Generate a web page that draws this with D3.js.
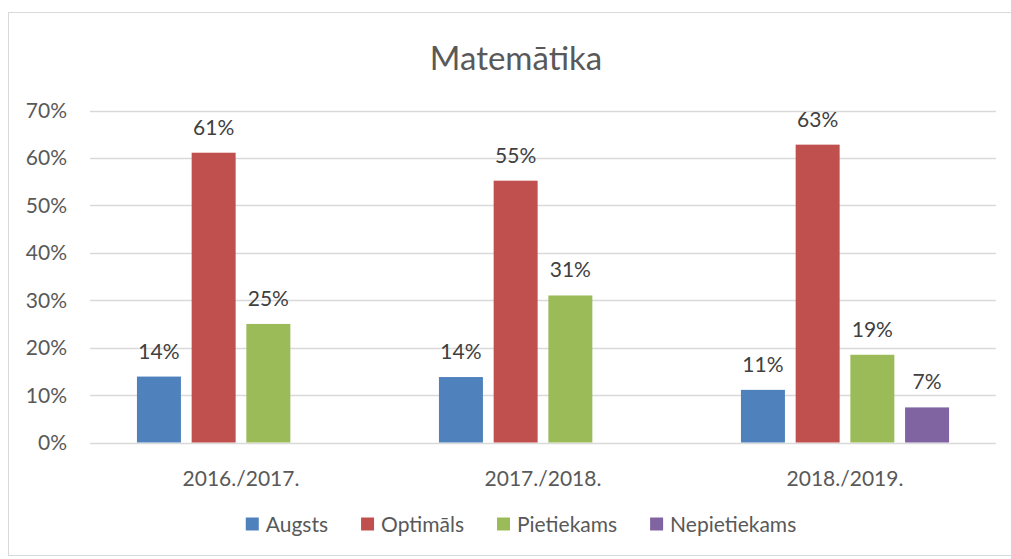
<!DOCTYPE html>
<html>
<head>
<meta charset="utf-8">
<script src="https://cdn.jsdelivr.net/npm/d3@7"></script>
<style>
  body { margin: 0; background: #fff; }
  svg text { font-family: Lato, "Open Sans", sans-serif; }
</style>
</head>
<body>
<svg></svg>
<script>
// chart data
const years = ["2016./2017.", "2017./2018.", "2018./2019."];
const series = ["Augsts", "Optimāls", "Pietiekams", "Nepietiekams"];
const augsts = [13.9, 13.8, 11.1];
const optimals = [61.1, 55.2, 62.8];
const pietiekams = [25.0, 31.0, 18.5];
const nepietiekams = [null, null, 7.4];
const yTicks = [0, 10, 20, 30, 40, 50, 60, 70];
const colours = ["#4F81BD", "#C0504D", "#9BBB59", "#8064A2"];

const width = 1011, height = 559;
const svg = d3.select("svg").attr("width", width).attr("height", height);

// outer frame
svg.append("rect")
  .attr("x", 8.5).attr("y", 12.5)
  .attr("width", 1010).attr("height", 543)
  .attr("fill", "#fff").attr("stroke", "#D9D9D9");

const plot = { left: 90, right: 996, top: 110.5, bottom: 442.5 };

const x = d3.scaleBand().domain(years).range([plot.left, plot.right]);
const xInner = d3.scaleBand().domain(series).range([0, x.bandwidth()])
  .paddingInner(0.196).paddingOuter(0.858);
const y = d3.scaleLinear().domain([0, 70]).range([plot.bottom, plot.top]);

// title
svg.append("text")
  .attr("x", 516).attr("y", 70)
  .attr("text-anchor", "middle")
  .attr("font-size", 33)
  .attr("fill", "#595959")
  .text("Matemātika");

// gridlines
svg.append("g").selectAll("line")
  .data(yTicks)
  .join("line")
  .attr("x1", plot.left).attr("x2", plot.right)
  .attr("y1", d => Math.round(y(d)) + 0.5).attr("y2", d => Math.round(y(d)) + 0.5)
  .attr("stroke", "#D9D9D9").attr("stroke-width", 1.5);

// y axis labels
svg.append("g").selectAll("text")
  .data(yTicks)
  .join("text")
  .attr("x", 67).attr("y", d => y(d))
  .attr("dy", "0.36em")
  .attr("text-anchor", "end")
  .attr("font-size", 21)
  .attr("fill", "#595959")
  .text(d => d + "%");

// x axis labels
svg.append("g").selectAll("text")
  .data(years)
  .join("text")
  .attr("x", d => x(d) + x.bandwidth() / 2).attr("y", 486)
  .attr("text-anchor", "middle")
  .attr("font-size", 21)
  .attr("fill", "#595959")
  .text(d => d);

// build rows
const values = [augsts, optimals, pietiekams, nepietiekams];
const rows = [];
years.forEach((yr, i) => {
  series.forEach((s, j) => {
    if (values[j][i] != null) rows.push({ year: yr, name: s, value: values[j][i], colour: colours[j] });
  });
});

const bars = svg.append("g").selectAll("g")
  .data(rows)
  .join("g");

bars.append("rect")
  .attr("x", d => x(d.year) + xInner(d.name))
  .attr("y", d => y(d.value))
  .attr("width", xInner.bandwidth())
  .attr("height", d => y(0) - y(d.value))
  .attr("fill", d => d.colour);

bars.append("text")
  .attr("x", d => x(d.year) + xInner(d.name) + xInner.bandwidth() / 2)
  .attr("y", d => y(d.value) - 18)
  .attr("text-anchor", "middle")
  .attr("font-size", 21)
  .attr("fill", "#404040")
  .text(d => Math.round(d.value) + "%");

// legend
const gap = 33;
const legend = svg.append("g");
const items = legend.selectAll("g").data(series).join("g");
items.append("rect")
  .attr("width", 13).attr("height", 13)
  .attr("y", -6.5)
  .attr("fill", (d, i) => colours[i]);
items.append("text")
  .attr("x", 20).attr("dy", "0.36em")
  .attr("font-size", 21)
  .attr("fill", "#595959")
  .text(d => d);

let pos = 0;
items.each(function() {
  const w = 20 + d3.select(this).select("text").node().getComputedTextLength();
  d3.select(this).attr("transform", `translate(${pos},0)`);
  pos += w + gap;
});
const legendWidth = pos - gap;
legend.attr("transform", `translate(${521 - legendWidth / 2},524)`);
</script>
</body>
</html>
